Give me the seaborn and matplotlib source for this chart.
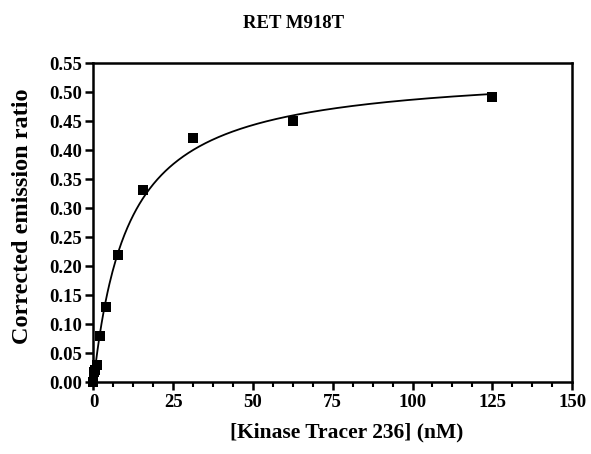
import numpy as np
import pandas as pd
import matplotlib
matplotlib.use("Agg")
import matplotlib.pyplot as plt
import seaborn as sns
from matplotlib.ticker import MultipleLocator, FormatStrFormatter

# Data
tracer_nM = [0.0, 0.24, 0.49, 0.98, 1.95, 3.9, 7.8, 15.6, 31.25, 62.5, 125.0]
emission_ratio = [0.0, 0.018, 0.022, 0.030, 0.080, 0.130, 0.220, 0.332, 0.421, 0.451, 0.491]
# One-site binding fit parameters (estimated from the drawn curve)
bmax = 0.540
kd = 10.9

sns.set_theme(style="white")
plt.rcParams['font.family'] = ['Liberation Serif', 'DejaVu Serif']
plt.rcParams['font.weight'] = 'bold'
plt.rcParams['text.color'] = 'black'
plt.rcParams['axes.labelcolor'] = 'black'
plt.rcParams['xtick.color'] = 'black'
plt.rcParams['ytick.color'] = 'black'

fig = plt.figure(figsize=(5.91, 4.54), dpi=100)
ax = fig.add_axes([0.1582, 0.1575, 0.968 - 0.1582, 0.8612 - 0.1575])

df = pd.DataFrame({"x": tracer_nM, "y": emission_ratio})
xf = np.linspace(0, max(tracer_nM), 400)
fit = pd.DataFrame({"x": xf, "y": bmax * xf / (kd + xf)})

sns.lineplot(data=fit, x="x", y="y", ax=ax, color="black", linewidth=1.3)
sns.scatterplot(data=df, x="x", y="y", ax=ax, marker="s", s=46, color="black",
                edgecolor="black", linewidth=0, clip_on=False, zorder=5)

ax.set_xlim(0, 150)
ax.set_ylim(0, 0.55)
ax.xaxis.set_major_locator(MultipleLocator(25))
ax.xaxis.set_minor_locator(MultipleLocator(6.25))
ax.yaxis.set_major_locator(MultipleLocator(0.05))
ax.yaxis.set_major_formatter(FormatStrFormatter('%.2f'))

for s in ax.spines.values():
    s.set_linewidth(1.8)
    s.set_color("black")

ax.tick_params(axis='both', which='major', direction='out', length=6, width=1.8,
               labelsize=13.5, color='black', labelcolor='black', pad=2,
               bottom=True, left=True)
ax.tick_params(axis='x', which='minor', direction='out', length=3.5, width=1.5,
               color='black', bottom=True)
for lab in ax.get_xticklabels() + ax.get_yticklabels():
    lab.set_fontweight('bold')

ax.set_xlabel("[Kinase Tracer 236] (nM)", fontsize=15.5, fontweight='bold', color='black')
ax.set_ylabel("Corrected emission ratio", fontsize=17.5, fontweight='bold', color='black')
ax.xaxis.set_label_coords(0.53, -0.158)
ax.xaxis.label.set_va('center')
ax.yaxis.set_label_coords(-0.148, 0.521)
ax.yaxis.label.set_va('center')

fig.text(293.5 / 591, 1 - 23 / 454, "RET M918T", ha='center', va='center',
         fontsize=13.5, fontweight='bold', color='black')

fig.savefig("out.png", dpi=100)
